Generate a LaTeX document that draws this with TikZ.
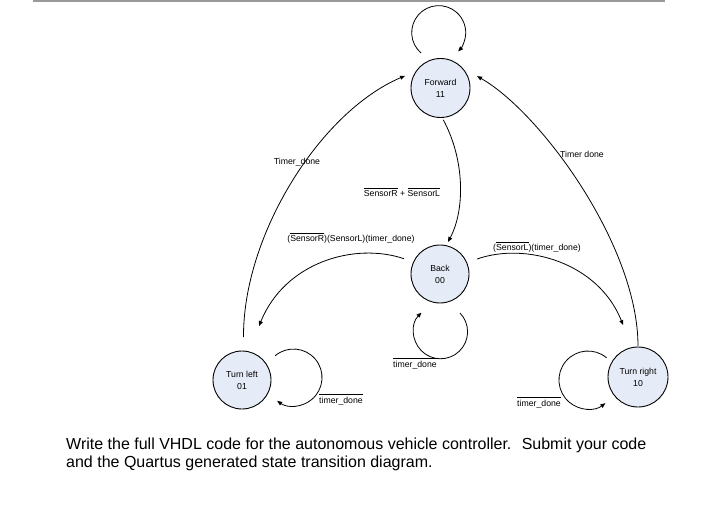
\documentclass[tikz,border=0pt]{standalone}
\usepackage{fontspec}
\setmainfont{Liberation Sans}
\usetikzlibrary{arrows.meta,calc}
\definecolor{nodefill}{RGB}{230,236,247}
\newcommand{\ovl}[1]{$\overline{\mbox{\rule{0pt}{7.6pt}#1}}$}
\begin{document}
\begin{tikzpicture}[x=1pt,y=1pt,
  state/.style={circle,draw,line width=0.9pt,fill=nodefill,inner sep=0pt,align=center,font=\fontsize{8.7}{12}\selectfont},
  arr/.style={line width=0.8pt,-{Triangle[length=5pt,width=4pt]}},
  lbl/.style={font=\fontsize{8.7}{10.5}\selectfont,inner sep=0pt,anchor=base},
  body/.style={font=\fontsize{16}{18}\selectfont,inner sep=0pt,anchor=base west}]
\useasboundingbox (0,0) rectangle (704,504);
\draw[gray!80,line width=1.5pt] (33,503) -- (665,503);
% states
\node[state,minimum size=59pt] (F) at (440.5,416) {Forward\\11};
\node[state,minimum size=58pt] (B) at (440,230) {Back\\00};
\node[state,minimum size=58pt] (TL) at (242,124) {Turn left\\01};
\node[state,minimum size=60pt] (TR) at (638,127) {Turn right\\10};
% transitions
\draw[arr] ($(TL)+(88:43pt)$) .. controls (243,269) and (320,392) .. ($(F)+(161:37.5pt)$);
\draw[arr] ($(TR)+(90:31pt)$) .. controls (638,259) and (540,392) .. ($(F)+(18:38.4pt)$);
\draw[arr] ($(F)+(-85:32pt)$) .. controls (465,344) and (465,294) .. ($(B)+(76:33pt)$);
\draw[arr] ($(B)+(157:39pt)$) .. controls (355,262) and (285,242) .. ($(TL)+(72.5:56.6pt)$);
\draw[arr] ($(B)+(22:40pt)$) .. controls (525,262) and (598,242) .. ($(TR)+(106:54pt)$);
% self loops
\draw[arr] ($(F)+(-19.5,35)$) arc[start angle=229,end angle=-44,radius=27pt];
\draw[arr] ($(B)+(20,-39)$) arc[start angle=44,end angle=-225,radius=27pt];
\draw[arr] ($(TL)+(33.2,24.3)$) arc[start angle=130,end angle=-125,radius=28.5pt];
\draw[arr] ($(TR)+(-31.4,19.2)$) arc[start angle=50,end angle=307,radius=29pt];
% labels
\node[lbl] (l1) at (297,339) {Timer\_done};
\node[lbl] (l2) at (582,346) {Timer done};
\node[lbl] (l3) at (402,307) {\ovl{SensorR} + \ovl{SensorL}};
\node[lbl] (l4) at (351,262) {(\ovl{SensorR})(SensorL)(timer\_done)};
\node[lbl] (l5) at (537,253) {(\ovl{SensorL})(timer\_done)};
\node[lbl] (l6) at (341,101) {\ovl{timer\_done}};
\node[lbl] (l7) at (415,137) {\ovl{timer\_done}};
\node[lbl] (l8) at (539,98) {\ovl{timer\_done}};
% question text
\node[body] (w1) at (66,55) {Write the full VHDL code for the autonomous vehicle controller. \ Submit your code};
\node[body] (w2) at (66,37) {and the Quartus generated state transition diagram.};
\end{tikzpicture}
\end{document}
